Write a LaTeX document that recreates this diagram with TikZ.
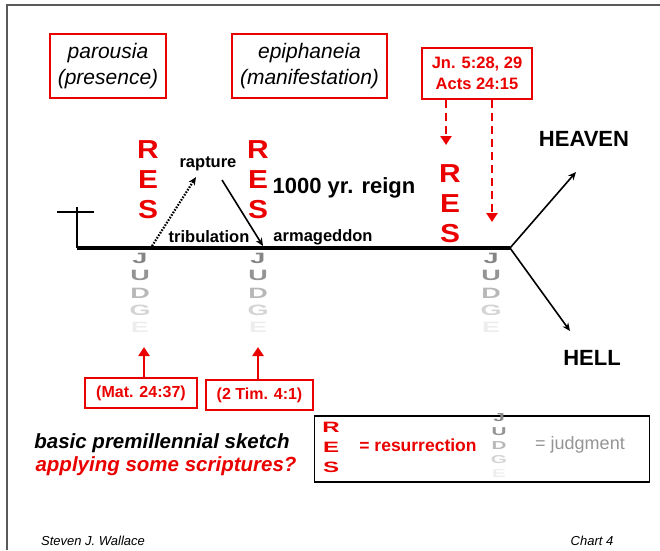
\documentclass[tikz,border=0pt]{standalone}
\usepackage{fontspec}
\setmainfont{Liberation Sans}
\usetikzlibrary{arrows.meta}
\usetikzlibrary{positioning}
\definecolor{mred}{rgb}{0.92, 0, 0}
\tikzset{redbox/.style = {draw = mred, line width = 1.8, align = center, inner sep = 0}}
\tikzset{res/.style = {text = mred, font = \bfseries\fontsize{26}{26}\selectfont, inner sep = 0}}
\tikzset{judg/.style = {font = \bfseries\fontsize{15}{15}\selectfont, inner sep = 0}}
\tikzset{lbl/.style = {font = \bfseries\fontsize{16.5}{16.5}\selectfont, inner sep = 0}}
\tikzset{big/.style = {font = \bfseries\fontsize{22}{22}\selectfont, inner sep = 0}}
\tikzset{blackarrow/.style = {line width = 1.6, -{Stealth[length = 8, width = 7]}}}
\tikzset{redarrow/.style = {mred, line width = 2.4, -{Triangle[length = 9, width = 11]}}}
\tikzset{dasharrow/.style = {redarrow, dash pattern = on 8 off 5}}

\begin{document}
\begin{tikzpicture}[x = 1pt, y = -1pt]
    \useasboundingbox (0, 0) rectangle (660, 550);
    % frame
    \draw [black!65, line width = 1.5] (7, 550) -- (7, 5) -- (660, 5);

    % greek words
    \node [redbox, minimum width = 116, minimum height = 64,
      font = \itshape\fontsize{21}{26}\selectfont] (parousia) at (108, 66) {parousia\\(presence)};
    \node [redbox, minimum width = 155, minimum height = 64,
      font = \itshape\fontsize{21}{26}\selectfont] (epiphaneia) at (309.5, 66) {epiphaneia\\(manifestation)};
    \node [redbox, minimum width = 110, minimum height = 51, text = mred,
      font = \bfseries\fontsize{16.5}{21}\selectfont] (jnbox) at (477, 73.5) {Jn. 5:28, 29\\Acts 24:15};

    \coordinate (jnend) at (446, 145);
    \coordinate (actsend) at (492, 222);
    \draw [dasharrow] (jnbox.south -| jnend) -- (jnend);
    \draw [dasharrow] (jnbox.south -| actsend) -- (actsend);

    % time line
    \coordinate (crossl) at (57, 212);
    \coordinate (crossr) at (94, 212);
    \coordinate (crosstop) at (77, 207);
    \coordinate (start) at (77, 248);
    \coordinate (fork) at (510, 248);
    \coordinate (heavenend) at (576, 172);
    \coordinate (hellend) at (570, 331);
    \draw [line width = 1.8] (crossl) -- (crossr);
    \draw [line width = 1.8] (crosstop) -- (start);
    \draw [line width = 4] (start) -- (fork);
    \draw [blackarrow] (fork) -- (heavenend);
    \draw [blackarrow] (fork) -- (hellend);

    \node [big] (heaven) at (584, 139) {HEAVEN};
    \node [big] (hell) at (592, 358) {HELL};
    \node [big] (reign) at (344, 188) {1000 yr. reign};
    \node [lbl] (rapture) at (208, 164) {rapture};
    \node [lbl] (tribulation) at (209, 237) {tribulation};
    \node [lbl] (armageddon) at (323, 237) {armageddon};

    \coordinate (tribstart) at (152, 246);
    \coordinate (raptend) at (196, 177);
    \coordinate (armstart) at (222, 180);
    \coordinate (armend) at (263, 246);
    \draw [blackarrow, line width = 2.2, dash pattern = on 1.6 off 1.4] (tribstart) -- (raptend);
    \draw [blackarrow] (armstart) -- (armend);

    % resurrections
    \foreach \x/\y/\n in {148/150/a, 258/150/b, 450/174/c} {
      \node [res] (r\n) at (\x, \y) {\scalebox{1.15}[1]{R}};
      \node [res] (e\n) at (\x, \y + 30) {\scalebox{1.15}[1]{E}};
      \node [res] (s\n) at (\x, \y + 60) {\scalebox{1.15}[1]{S}};
    }

    % judgments
    \foreach \x in {140, 258, 491} {
      \foreach \l/\c/\dy in {J/48/0, U/42/17, D/28/35, G/17/52, E/7/69} {
        \node [judg, text = black!\c] (j\x\l) at (\x, 258 + \dy) {\scalebox{1.8}[1]{\l}};
      }
    }

    % scriptures
    \node [redbox, minimum width = 112, minimum height = 30, text = mred,
      font = \bfseries\fontsize{16}{16}\selectfont] (matbox) at (141, 393) {(Mat. 24:37)};
    \node [redbox, minimum width = 107, minimum height = 30, text = mred,
      font = \bfseries\fontsize{16}{16}\selectfont] (timbox) at (259.5, 395) {(2 Tim. 4:1)};
    \coordinate (matend) at (144, 347);
    \coordinate (timend) at (258, 347);
    \draw [redarrow] (matbox.north -| matend) -- (matend);
    \draw [redarrow] (timbox.north -| timend) -- (timend);

    \node [font = \bfseries\itshape\fontsize{20.5}{20.5}\selectfont] (sketch) at (162, 443) {basic premillennial sketch};
    \node [font = \bfseries\itshape\fontsize{20.5}{20.5}\selectfont, text = mred] (question) at (166, 466) {applying some scriptures?};

    % legend
    \node [draw, line width = 1.8, minimum width = 335, minimum height = 66] (legend) at (482, 449) {};
    \foreach \l/\dy in {R/0, E/20, S/40} {
      \node [text = mred, font = \bfseries\fontsize{15}{15}\selectfont, inner sep = 0] (leg\l) at (331, 427 + \dy) {\scalebox{1.6}[1]{\l}};
    }
    \foreach \l/\c/\dy in {J/48/0, U/42/14, D/28/28, G/17/42, E/7/56} {
      \node [text = black!\c, font = \bfseries\fontsize{11.5}{11.5}\selectfont, inner sep = 0] (legj\l) at (499, 418 + \dy) {\scalebox{1.8}[1]{\l}};
    }
    \node [text = mred, font = \bfseries\fontsize{17.5}{17.5}\selectfont] (resword) at (418, 445) {= resurrection};
    \node [text = black!42, font = \fontsize{18}{18}\selectfont] (judgword) at (580, 445) {= judgment};

    % footer
    \node [font = \itshape\fontsize{13}{13}\selectfont] (author) at (93, 541) {Steven J. Wallace};
    \node [font = \itshape\fontsize{13}{13}\selectfont] (chart) at (592, 541) {Chart 4};
\end{tikzpicture}
\end{document}
